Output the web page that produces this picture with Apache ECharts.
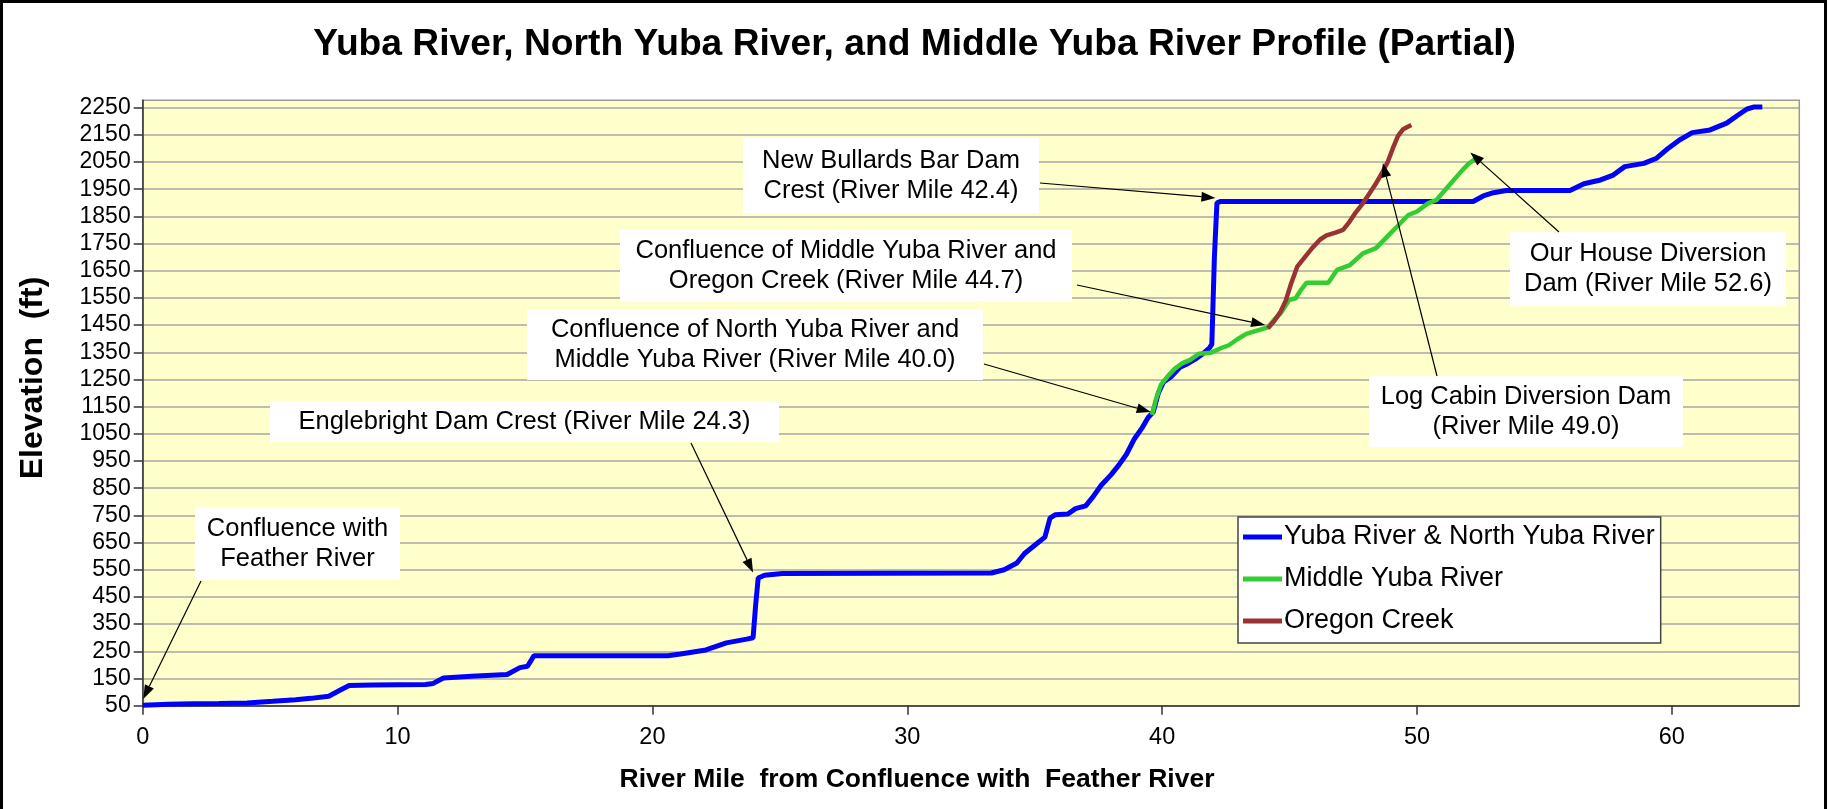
<!DOCTYPE html>
<html>
<head>
<meta charset="utf-8">
<script src="https://cdn.jsdelivr.net/npm/echarts@6/dist/echarts.min.js"></script>
<style>
html,body{margin:0;padding:0;background:#fff;}
#chart{width:1829px;height:809px;}
</style>
</head>
<body>
<div id="chart"></div>
<script>
// ---- Data ----
const xTicks = [0, 10, 20, 30, 40, 50, 60];
const yTicks = [50,150,250,350,450,550,650,750,850,950,1050,1150,1250,1350,1450,1550,1650,1750,1850,1950,2050,2150,2250];

const yubaMile = [0,1.0,2.0,3.0,4.1,5.1,6.0,6.6,7.3,7.7,8.1,9.0,10.0,11.1,11.4,11.8,12.9,14.3,14.8,15.1,15.35,20.6,21.1,22.1,22.9,23.7,23.95,24.05,24.15,24.4,25.1,33.3,33.8,34.3,34.6,35.0,35.4,35.6,35.8,36.3,36.6,37.0,37.3,37.6,38.0,38.3,38.6,38.9,39.2,39.45,39.65,39.85,40.05,40.35,40.7,41.0,41.3,41.6,41.85,41.95,42.05,42.15,42.3,52.2,52.6,53.0,53.5,56.0,56.55,57.2,57.7,58.15,58.9,59.4,59.85,60.3,60.8,61.5,62.15,62.6,62.95,63.2,63.55];
const yubaElev = [52,55,57,58,60,66,72,77,85,105,124,126,127,128,132,152,158,165,190,195,234,234,240,255,281,295,300,420,520,530,536,538,550,575,610,640,670,740,752,755,775,785,820,860,900,935,975,1030,1070,1110,1130,1200,1240,1260,1295,1308,1325,1345,1365,1380,1700,1900,1905,1905,1925,1937,1945,1945,1970,1984,2002,2033,2045,2064,2100,2131,2158,2168,2193,2223,2245,2252,2252];

const middleMile = [39.6,39.75,39.95,40.2,40.5,40.8,41.1,41.45,41.9,42.3,42.6,42.95,43.3,43.65,44.15,44.4,44.65,44.99,45.24,45.45,45.67,46.52,46.86,47.37,47.88,48.39,48.9,49.3,49.66,50.0,50.43,50.77,51.28,51.79,52.04,52.3];
const middleElev = [1120,1175,1230,1260,1290,1310,1322,1345,1348,1365,1375,1398,1418,1428,1442,1470,1494,1543,1549,1580,1606,1606,1653,1671,1714,1733,1782,1820,1855,1868,1898,1911,1966,2021,2045,2062];

const oregonMile = [44.15,44.4,44.65,44.85,45.05,45.3,45.6,45.9,46.2,46.45,46.8,47.1,47.35,47.6,47.85,48.1,48.35,48.6,48.85,49.05,49.25,49.45,49.6,49.78];
const oregonElev = [1438,1465,1500,1540,1600,1665,1700,1735,1765,1780,1790,1800,1830,1865,1895,1930,1965,2005,2050,2100,2145,2170,2178,2186];

const seriesNames = ['Yuba River & North Yuba River', 'Middle Yuba River', 'Oregon Creek'];
const titleText = 'Yuba River, North Yuba River, and Middle Yuba River Profile (Partial)';
const xAxisTitle = 'River Mile  from Confluence with  Feather River';
const yAxisTitle = 'Elevation  (ft)';

// annotation texts and the data point each arrow points to
const noteTexts = [
  'Confluence with\nFeather River',
  'Englebright Dam Crest (River Mile 24.3)',
  'Confluence of North Yuba River and\nMiddle Yuba River (River Mile 40.0)',
  'Confluence of Middle Yuba River and\nOregon Creek (River Mile 44.7)',
  'New Bullards Bar Dam\nCrest (River Mile 42.4)',
  'Our House Diversion\nDam (River Mile 52.6)',
  'Log Cabin Diversion Dam\n(River Mile 49.0)'
];
const noteTargets = [[0.02,75],[23.95,540],[39.55,1130],[44.04,1450],[42.09,1918],[52.09,2085],[48.66,2046]];

// ---- Layout (pixels) ----
const noteBoxes = [ // x, y, w, h
  [195,507,205,73],
  [270,402,509,40],
  [527,309,456,71],
  [620,230,452,71],
  [743,138,296,75],
  [1510,232,276,74],
  [1369,376,314,71]
];
const noteFrom = [[201,581],[691,443],[984,364],[1077,285],[1040,183],[1559,232],[1437,376]];

const zip = (a, b) => a.map((v, i) => [v, b[i]]);

const chart = echarts.init(document.getElementById('chart'), null, {renderer: 'canvas'});
const FONT = 'Liberation Sans, Arial, sans-serif';

const option = {
  animation: false,
  backgroundColor: '#ffffff',
  color: ['#0000FF', '#33CC33', '#993333'],
  title: {
    text: titleText,
    left: 'center',
    top: 21,
    textStyle: {fontFamily: FONT, fontSize: 37.2, fontWeight: 'bold', color: '#000'}
  },
  grid: {
    left: 142.7, top: 100.3, right: 29.7, bottom: 103.3,
    show: true, backgroundColor: '#FFFFCC', borderColor: '#999999', borderWidth: 1.5,
    containLabel: false
  },
  legend: {
    orient: 'vertical',
    left: 1238, top: 517,
    backgroundColor: '#ffffff',
    borderColor: '#444444', borderWidth: 1.5,
    padding: [5, 6, 7, 5],
    itemGap: 12,
    itemWidth: 39, itemHeight: 5,
    icon: 'rect',
    textStyle: {fontFamily: FONT, fontSize: 27, color: '#000', lineHeight: 30, padding: [0,0,0,-3]},
    data: seriesNames
  },
  xAxis: {
    type: 'value', min: 0, max: 65, interval: 10,
    axisLine: {onZero: false, lineStyle: {color: '#333', width: 1.5}},
    axisTick: {show: true, length: 9, inside: false, customValues: xTicks, lineStyle: {color: '#333', width: 1.5}},
    axisLabel: {customValues: xTicks, margin: 20, fontFamily: FONT, fontSize: 23.5, color: '#000', formatter: v => String(v)},
    splitLine: {show: false}
  },
  yAxis: {
    type: 'value', min: 50, max: 2277, interval: 100,
    axisLine: {show: true, lineStyle: {color: '#333', width: 1.5}},
    axisTick: {show: true, length: 9, customValues: yTicks, lineStyle: {color: '#333', width: 1.5}},
    axisLabel: {customValues: yTicks, margin: 12, fontFamily: FONT, fontSize: 23, color: '#000', formatter: v => String(v)},
    splitLine: {show: true, lineStyle: {color: '#A6A6A6', width: 1.5}}
  },
  series: [
    {name: seriesNames[0], type: 'line', data: zip(yubaMile, yubaElev), showSymbol: false, lineStyle: {width: 5}, z: 3},
    {name: seriesNames[1], type: 'line', data: zip(middleMile, middleElev), showSymbol: false, lineStyle: {width: 4.5}, z: 4},
    {name: seriesNames[2], type: 'line', data: zip(oregonMile, oregonElev), showSymbol: false, lineStyle: {width: 4.5}, z: 5}
  ]
};
chart.setOption(option);

// ---- Annotations (boxes + arrows) and axis titles ----
function arrowHead(tip, from, len, half) {
  const dx = tip[0] - from[0], dy = tip[1] - from[1];
  const d = Math.sqrt(dx*dx + dy*dy) || 1;
  const ux = dx / d, uy = dy / d;
  const bx = tip[0] - ux*len, by = tip[1] - uy*len;
  return [[tip[0], tip[1]], [bx - uy*half, by + ux*half], [bx + uy*half, by - ux*half]];
}
const graphics = [];
noteTexts.forEach((t, i) => {
  const b = noteBoxes[i];
  graphics.push({type: 'rect', shape: {x: b[0], y: b[1], width: b[2], height: b[3]}, style: {fill: '#ffffff'}, z: 50});
  graphics.push({type: 'text', x: b[0] + b[2]/2, y: b[1] + b[3]/2, z: 51,
    style: {text: t, fill: '#000', font: '25.5px ' + FONT, align: 'center', verticalAlign: 'middle', lineHeight: 30}});
  const tip = chart.convertToPixel({gridIndex: 0}, noteTargets[i]);
  const from = noteFrom[i];
  const head = arrowHead(tip, from, 14, 5);
  const lineEnd = [(head[1][0] + head[2][0]) / 2, (head[1][1] + head[2][1]) / 2];
  graphics.push({type: 'line', shape: {x1: from[0], y1: from[1], x2: lineEnd[0], y2: lineEnd[1]}, style: {stroke: '#000', lineWidth: 1.2}, z: 52});
  graphics.push({type: 'polygon', shape: {points: head}, style: {fill: '#000'}, z: 52});
});
// axis titles
graphics.push({type: 'text', x: 917, y: 780, z: 40,
  style: {text: xAxisTitle, fill: '#000', font: 'bold 26.5px ' + FONT, align: 'center', verticalAlign: 'middle'}});
graphics.push({type: 'text', x: 33, y: 378, rotation: Math.PI / 2, z: 40,
  style: {text: yAxisTitle, fill: '#000', font: 'bold 32px ' + FONT, align: 'center', verticalAlign: 'middle'}});
// outer frame
graphics.push({type: 'rect', shape: {x: 1.5, y: 1.5, width: 1824, height: 830}, style: {fill: 'none', stroke: '#000', lineWidth: 3}, z: 100});
chart.setOption({graphic: graphics});
</script>
</body>
</html>
